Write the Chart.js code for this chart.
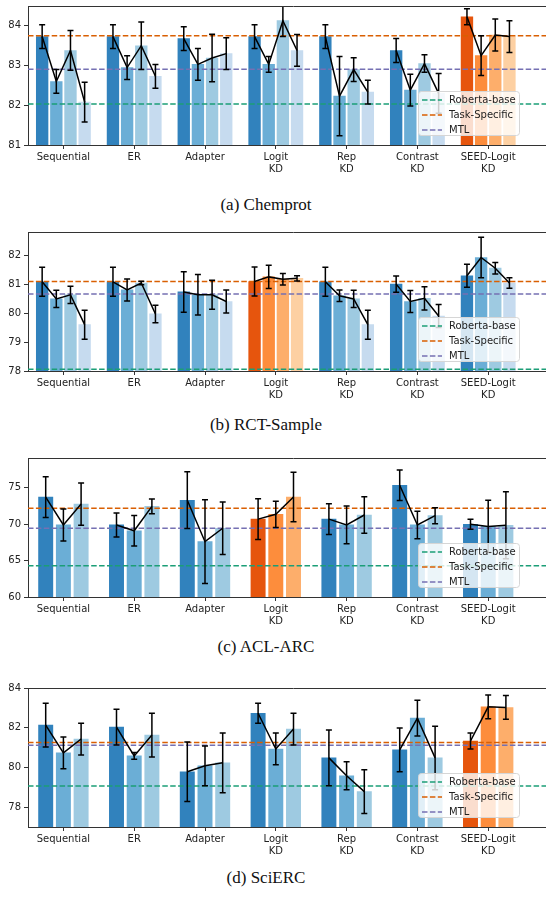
<!DOCTYPE html>
<html>
<head>
<meta charset="utf-8">
<script src="https://cdn.jsdelivr.net/npm/chart.js@4.4.1/dist/chart.umd.min.js"></script>
<style>
  body { margin: 0; background: #fff; overflow: hidden; width: 546px; height: 897px; position: relative; }
  canvas { position: absolute; left: 0; }
  .cap { position: absolute; left: 0; width: 532px; text-align: center; font-family: 'Liberation Serif', 'DejaVu Serif', serif; font-size: 17px; color: #111; }
</style>
</head>
<body>
<canvas id="c0" width="559" height="180"></canvas>
<canvas id="c1" width="559" height="180"></canvas>
<canvas id="c2" width="559" height="180"></canvas>
<canvas id="c3" width="559" height="180"></canvas>
<div class="cap" style="top:195px">(a) Chemprot</div>
<div class="cap" style="top:415px">(b) RCT-Sample</div>
<div class="cap" style="top:637px">(c) ACL-ARC</div>
<div class="cap" style="top:868px">(d) SciERC</div>
<script>
var groupLabels = ['Sequential', 'ER', 'Adapter', ['Logit', 'KD'], ['Rep', 'KD'], ['Contrast', 'KD'], ['SEED-Logit', 'KD']];
var refNames = ['Roberta-base', 'Task-Specific', 'MTL'];
var refColors = ['#1b9e77', '#d95f02', '#7570b3'];
var blues = ['#3182bd', '#6baed6', '#9ecae1', '#c6dbef'];
var oranges = ['#e6550d', '#fd8d3c', '#fdae6b', '#fdd0a2'];

// (a) Chemprot
var chemprotMean = [
    [83.73, 82.60, 83.38, 82.08],
    [83.73, 82.95, 83.50, 82.73],
    [83.68, 83.03, 83.19, 83.30],
    [83.73, 83.03, 84.13, 83.38],
    [83.73, 82.23, 82.90, 82.33],
    [83.38, 82.38, 83.05, 82.30],
    [84.23, 83.25, 83.77, 83.73]
];
var chemprotErr = [
    [0.3, 0.3, 0.5, 0.5],
    [0.3, 0.3, 0.6, 0.3],
    [0.3, 0.4, 0.6, 0.4],
    [0.3, 0.2, 0.4, 0.4],
    [0.3, 1.0, 0.3, 0.3],
    [0.3, 0.4, 0.22, 0.5],
    [0.2, 0.5, 0.4, 0.4]
];
var chemprotRef = [82.03, 83.75, 82.91];
var chemprotTicks = [81, 82, 83, 84];

// (b) RCT-Sample
var rctMean = [
    [81.08, 80.49, 80.63, 79.60],
    [81.08, 80.80, 81.04, 79.97],
    [80.73, 80.63, 80.63, 80.40],
    [81.09, 81.25, 81.17, 81.20],
    [81.08, 80.60, 80.49, 79.60],
    [81.00, 80.40, 80.51, 79.90],
    [81.29, 81.92, 81.55, 81.04]
];
var rctErr = [
    [0.5, 0.3, 0.3, 0.5],
    [0.5, 0.38, 0.06, 0.3],
    [0.7, 0.7, 0.5, 0.4],
    [0.5, 0.4, 0.2, 0.09],
    [0.5, 0.2, 0.3, 0.5],
    [0.28, 0.38, 0.4, 0.4],
    [0.4, 0.7, 0.2, 0.18]
];
var rctRef = [78.06, 81.09, 80.66];
var rctTicks = [78, 79, 80, 81, 82];

// (c) ACL-ARC
var aclMean = [
    [73.73, 69.90, 72.77],
    [69.90, 69.10, 72.45],
    [73.30, 67.60, 69.45],
    [70.70, 71.36, 73.73],
    [70.70, 69.90, 71.27],
    [75.36, 69.90, 71.18],
    [70.00, 69.70, 69.86]
];
var aclErr = [
    [2.8, 2.2, 2.9],
    [1.65, 2.1, 1.0],
    [3.9, 5.75, 3.6],
    [2.8, 1.8, 3.4],
    [2.1, 2.6, 2.5],
    [2.1, 1.9, 1.1],
    [0.7, 3.6, 4.6]
];
var aclRef = [64.3, 72.2, 69.45];
var aclTicks = [60, 65, 70, 75];

// (d) SciERC
var scierMean = [
    [82.13, 80.73, 81.43],
    [82.03, 80.58, 81.63],
    [79.78, 80.08, 80.23],
    [82.73, 80.93, 81.93],
    [80.48, 79.58, 78.78],
    [80.88, 82.48, 80.48],
    [81.33, 83.05, 83.02]
];
var scierErr = [
    [1.1, 0.8, 0.8],
    [0.9, 0.17, 1.1],
    [1.5, 1.0, 1.5],
    [0.5, 0.8, 0.8],
    [1.4, 0.7, 1.1],
    [1.1, 0.9, 1.6],
    [0.4, 0.6, 0.6]
];
var scierRef = [79.07, 81.25, 81.12];
var scierTicks = [78, 80, 82, 84];

var tickFont = {family: 'DejaVu Sans', size: 10};

// error bars, top spine and the legend box
var extrasPlugin = {
    id: 'extras',
    afterDatasetsDraw: function (chart) {
        var ctx = chart.ctx, area = chart.chartArea, ys = chart.scales.y;
        ctx.save();
        ctx.beginPath();
        ctx.rect(area.left, area.top, area.right - area.left, area.bottom - area.top);
        ctx.clip();
        ctx.strokeStyle = '#000';
        ctx.lineWidth = 1.5;
        chart.data.datasets.forEach(function (ds, di) {
            if (!ds.errors) return;
            chart.getDatasetMeta(di).data.forEach(function (bar, i) {
                var m = ds.data[i].y, e = ds.errors[i];
                var y1 = ys.getPixelForValue(m + e), y2 = ys.getPixelForValue(m - e);
                ctx.beginPath();
                ctx.moveTo(bar.x, y1); ctx.lineTo(bar.x, y2);
                ctx.moveTo(bar.x - 3, y1); ctx.lineTo(bar.x + 3, y1);
                ctx.moveTo(bar.x - 3, y2); ctx.lineTo(bar.x + 3, y2);
                ctx.stroke();
            });
        });
        ctx.restore();
    },
    afterDraw: function (chart) {
        var ctx = chart.ctx, area = chart.chartArea;
        ctx.save();
        ctx.strokeStyle = '#333';
        ctx.lineWidth = 1;
        ctx.beginPath();
        ctx.moveTo(area.left, area.top + 0.5);
        ctx.lineTo(area.right, area.top + 0.5);
        ctx.stroke();

        // legend, lower right
        var w = 101, h = 44;
        var bx = 418, by = area.bottom - 10 - h;
        ctx.fillStyle = 'rgba(255,255,255,0.8)';
        ctx.strokeStyle = '#d6d6d6';
        ctx.beginPath();
        ctx.roundRect(bx + 0.5, by + 0.5, w, h, 3);
        ctx.fill();
        ctx.stroke();
        ctx.font = '10px "DejaVu Sans"';
        ctx.textBaseline = 'middle';
        refNames.forEach(function (name, k) {
            var ry = by + 9 + k * 15;
            ctx.strokeStyle = refColors[k];
            ctx.lineWidth = 1.5;
            ctx.setLineDash([5.5, 2.4]);
            ctx.beginPath();
            ctx.moveTo(bx + 4, ry); ctx.lineTo(bx + 24, ry);
            ctx.stroke();
            ctx.setLineDash([]);
            ctx.fillStyle = '#222';
            ctx.fillText(name, bx + 31, ry + 0.5);
        });
        ctx.restore();
    }
};

var makePanel = function (id, plotTop, means, errs, refs, yTicks, yMin, yMax, orangeGroup) {
    var canvas = document.getElementById(id);
    canvas.style.top = (plotTop - 8) + 'px';
    var nBars = means[0].length;
    var offsets = nBars === 4 ? [-0.3, -0.1, 0.1, 0.3] : [-0.25, 0, 0.25];
    var thickness = nBars === 4 ? 11.7 : 14.3;
    var datasets = [];

    // black line through the bar tops of each group
    var linePts = [];
    means.forEach(function (row, i) {
        row.forEach(function (v, k) { linePts.push({x: i + offsets[k], y: v}); });
        linePts.push({x: i + 0.5, y: null});
    });
    datasets.push({
        type: 'line', data: linePts, borderColor: '#000', borderWidth: 1.5,
        pointRadius: 0, spanGaps: false, order: 0
    });

    refs.forEach(function (v, k) {
        datasets.push({
            type: 'line', label: refNames[k],
            data: [{x: -0.5, y: v}, {x: 7, y: v}],
            borderColor: refColors[k], borderWidth: 1.5, borderDash: [5.5, 2.4],
            pointRadius: 0, order: 1
        });
    });

    for (var k = 0; k < nBars; k++) {
        datasets.push({
            type: 'bar',
            data: means.map(function (row, i) { return {x: i + offsets[k], y: row[k]}; }),
            errors: errs.map(function (row) { return row[k]; }),
            backgroundColor: means.map(function (row, i) { return i === orangeGroup ? oranges[k] : blues[k]; }),
            barThickness: thickness,
            grouped: false,
            order: 2
        });
    }

    return new Chart(canvas.getContext('2d'), {
        type: 'bar',
        data: {datasets: datasets},
        plugins: [extrasPlugin],
        options: {
            responsive: false,
            animation: false,
            layout: {padding: {top: 8, left: 0, right: 0, bottom: 0}},
            plugins: {legend: {display: false}, tooltip: {enabled: false}},
            scales: {
                x: {
                    type: 'linear', min: -0.5, max: 7, offset: false,
                    afterBuildTicks: function (scale) {
                        scale.ticks = groupLabels.map(function (g, i) { return {value: i}; });
                    },
                    afterFit: function (scale) { scale.height = 32; },
                    ticks: {
                        autoSkip: false, maxRotation: 0, padding: 2, color: '#222', font: tickFont,
                        callback: function (value) { return groupLabels[value]; }
                    },
                    grid: {display: true, drawOnChartArea: false, tickLength: 4, color: '#333', offset: false},
                    border: {display: true, color: '#333'}
                },
                y: {
                    type: 'linear', min: yMin, max: yMax,
                    afterBuildTicks: function (scale) {
                        scale.ticks = yTicks.map(function (v) { return {value: v}; });
                    },
                    afterFit: function (scale) { scale.width = 28; },
                    ticks: {padding: 3, color: '#222', font: tickFont},
                    grid: {display: true, drawOnChartArea: false, tickLength: 4, color: '#333'},
                    border: {display: true, color: '#333'}
                }
            }
        }
    });
};

makePanel('c0', 5, chemprotMean, chemprotErr, chemprotRef, chemprotTicks, 81, 84.5, 6);
makePanel('c1', 231, rctMean, rctErr, rctRef, rctTicks, 78, 82.8, 3);
makePanel('c2', 457, aclMean, aclErr, aclRef, aclTicks, 60, 79.1, 3);
makePanel('c3', 687, scierMean, scierErr, scierRef, scierTicks, 77, 84, 6);
</script>
</body>
</html>
